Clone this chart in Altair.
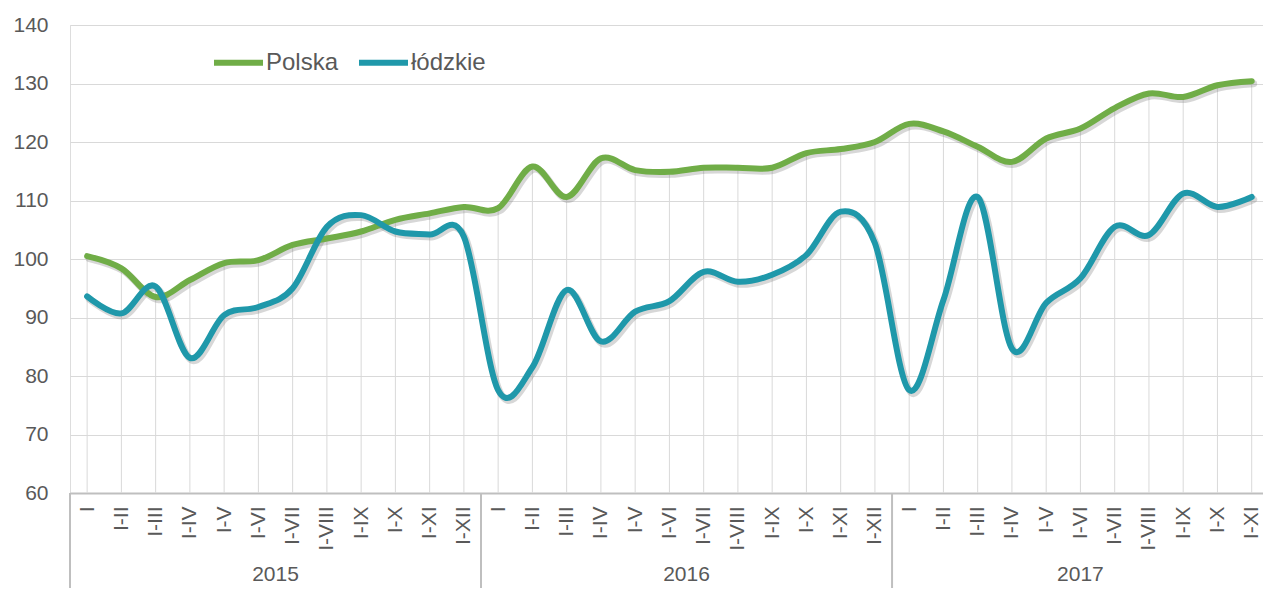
import json
import altair as alt
import pandas as pd

# ---- data -------------------------------------------------------------
months_full = ["I", "I-II", "I-III", "I-IV", "I-V", "I-VI", "I-VII", "I-VIII",
               "I-IX", "I-X", "I-XI", "I-XII"]
years = ["2015", "2016", "2017"]
months_per_year = [12, 12, 11]

polska = [100.5, 98.4, 93.5, 96.4, 99.3, 99.8, 102.4, 103.5, 104.7, 106.7, 107.8, 108.9,
          108.7, 115.8, 110.6, 117.2, 115.2, 114.9, 115.6, 115.6, 115.6, 118.1, 118.8, 120.0,
          123.1, 121.8, 119.2, 116.6, 120.6, 122.3, 125.8, 128.3, 127.7, 129.7, 130.4]
lodzkie = [93.6, 90.7, 95.3, 83.1, 90.4, 91.8, 95.0, 105.5, 107.5, 104.7, 104.2, 103.8,
           77.6, 81.5, 94.7, 85.9, 91.0, 92.8, 97.8, 96.1, 97.3, 100.7, 108.1, 102.7,
           77.6, 93.0, 110.6, 84.7, 92.5, 96.7, 105.5, 104.1, 111.2, 108.9, 110.6]

series_names = ["Polska", "łódzkie"]
series_colors = ["#70AD47", "#1F98AA"]

# ---- build tables -----------------------------------------------------
labels = []
for n in months_per_year:
    labels += months_full[:n]
n_pts = len(labels)

rows = []
for name, vals in zip(series_names, [polska, lodzkie]):
    for i, v in enumerate(vals):
        rows.append({"idx": i, "label": labels[i], "series": name, "value": v})
df = pd.DataFrame(rows)

df_drop = pd.DataFrame({"idx": list(range(n_pts)),
                        "top": [max(a, b) for a, b in zip(polska, lodzkie)],
                        "bottom": [60] * n_pts})

seps, centers = [], []
start = -0.5
for n in months_per_year:
    seps.append(start)
    centers.append(start + n / 2.0)
    start += n
df_sep = pd.DataFrame({"pos": seps})
# last group spans a full 12-month slot width in the original layout
centers[-1] = seps[-1] + 12 / 2.0 - 0.5
df_years = pd.DataFrame({"center": centers, "year": years})

# ---- chart ------------------------------------------------------------
W, H = 1193, 468
FONT = "Liberation Sans"
GREY_TXT = "#595959"

xscale = alt.Scale(domain=[-0.5, 34.33], nice=False, zero=False)
yscale = alt.Scale(domain=[60, 140], nice=False, zero=False)

xaxis = alt.Axis(values=list(range(n_pts)),
                 labelExpr=json.dumps(labels) + "[datum.value]",
                 labelAngle=270, labelFontSize=21, labelFont=FONT, labelColor=GREY_TXT,
                 labelPadding=13, labelOverlap=False, labelFlush=False,
                 ticks=False, grid=False, domainColor="#bfbfbf", domainWidth=2,
                 title=None)
yaxis = alt.Axis(values=list(range(60, 141, 10)), labelFontSize=21, labelFont=FONT,
                 labelColor=GREY_TXT, labelPadding=22, domain=False, ticks=False,
                 grid=True, gridColor="#d9d9d9", gridWidth=1, title=None)

x_idx = alt.X("idx:Q", scale=xscale, axis=xaxis)

drop = alt.Chart(df_drop).mark_rule(color="#d9d9d9", strokeWidth=1).encode(
    x=x_idx,
    y=alt.Y("top:Q", scale=yscale, axis=yaxis),
    y2="bottom:Q",
)

shadow = alt.Chart(df).mark_line(
    interpolate="cardinal", tension=0, strokeWidth=7, strokeCap="round",
    strokeJoin="round", color="#7a7a7a", opacity=0.3, xOffset=2, yOffset=2.5,
).encode(
    x=x_idx,
    y=alt.Y("value:Q", scale=yscale, axis=yaxis),
    detail="series:N",
)

lines = alt.Chart(df).mark_line(
    interpolate="cardinal", tension=0, strokeWidth=6, strokeCap="round",
    strokeJoin="round",
).encode(
    x=x_idx,
    y=alt.Y("value:Q", scale=yscale, axis=yaxis),
    color=alt.Color("series:N",
                    scale=alt.Scale(domain=series_names, range=series_colors),
                    legend=alt.Legend(orient="none", legendX=141, legendY=10,
                                      direction="horizontal", title=None,
                                      symbolType="stroke", symbolSize=2401,
                                      symbolStrokeWidth=6, labelFontSize=24,
                                      labelFont=FONT, labelColor=GREY_TXT,
                                      labelOffset=0, columnPadding=8)),
)

sep = alt.Chart(df_sep).mark_rule(color="#bfbfbf", strokeWidth=2).encode(
    x=alt.X("pos:Q", scale=xscale, axis=xaxis),
    y=alt.value(H),
    y2=alt.value(H + 95),
)

year_txt = alt.Chart(df_years).mark_text(
    fontSize=21, font=FONT, color=GREY_TXT, baseline="alphabetic", align="center",
).encode(
    x=alt.X("center:Q", scale=xscale, axis=xaxis),
    y=alt.value(H + 88),
    text="year:N",
)

chart = alt.layer(drop, shadow, lines, sep, year_txt).properties(
    width=W, height=H,
    padding={"left": 62, "top": 17, "right": 0, "bottom": 95},
    autosize=alt.AutoSizeParams(type="none"),
).configure_view(stroke=None).configure(background="white")

chart.save("out.html", embed_options={"renderer": "svg", "actions": False})
